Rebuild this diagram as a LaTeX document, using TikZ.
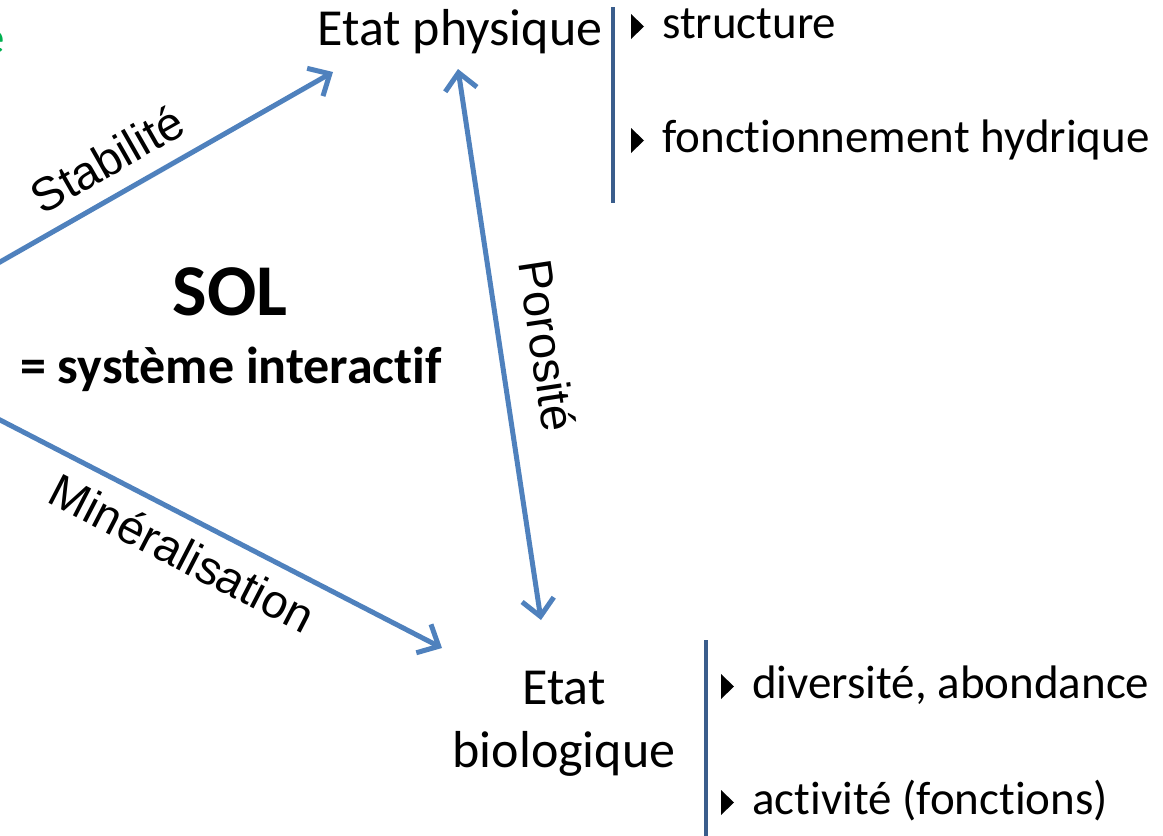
\documentclass[tikz,border=0pt]{standalone}
\usepackage{fontspec}
\setmainfont{Carlito}[Ligatures=NoCommon]
\newfontfamily\arialfont{Liberation Sans}
\usepackage{tikz}
\usetikzlibrary{arrows.meta}
\definecolor{bleu}{HTML}{4F81BD}
\definecolor{bleufonce}{HTML}{3A5D8C}
\definecolor{vert}{HTML}{00B050}

\begin{document}
\begin{tikzpicture}[x=1pt,y=-1pt,
  pointe/.tip={Straight Barb[length=17pt,width=32pt]},
  titre/.style={inner sep=0pt,font=\fontsize{52}{63}\selectfont,align=center},
  puce/.style={inner sep=0pt,anchor=base west,font=\fontsize{47}{56}\selectfont},
  gras/.style={inner sep=0pt,anchor=base,font=\fontsize{52}{63}\selectfont\bfseries},
  lien/.style={inner sep=0pt,font=\arialfont\fontsize{47}{56}\selectfont,sloped},
  fleche/.style={draw=bleu,line width=5pt},
  trait/.style={draw=bleufonce,line width=4pt},
  marque/.pic={\fill (-31,1) -- (-31,-24) -- (-18,-11.5) -- cycle;}
]
\useasboundingbox (0,0) rectangle (1163,836);
\node[titre,anchor=base] (physique) at (460,45) {Etat physique};
\node[titre,anchor=north] (biologique) at (564,671) {Etat\\biologique};
\node[gras,font=\fontsize{73}{88}\selectfont\bfseries] (sol) at (230,315) {SOL};
\node[gras] (systeme) at (231,383) {= système interactif};
\node[titre,anchor=base east,text=vert,font=\fontsize{47}{56}\selectfont] (coin) at (5,53) {e};

\draw[trait] (613,7) -- (613,203);
\draw[trait] (706,640) -- (706,836);
\node[puce] (structure) at (662,38) {structure};
\node[puce] (hydrique) at (662,152) {fonctionnement hydrique};
\node[puce] (diversite) at (752,698) {diversité, abondance};
\node[puce] (activite) at (752,814) {activité (fonctions)};
\foreach \p in {structure,hydrique,diversite,activite}
  \pic at (\p.base west) {marque};

\coordinate (depart1) at (-10,267.7);
\coordinate (depart2) at (-10,414.8);
\draw[fleche,-pointe] (depart1) -- node[lien,pos=0.394,anchor=south,outer sep=19pt] {Stabilité} ([xshift=-127pt,yshift=-27pt]physique.base);
\draw[fleche,pointe-pointe] ([xshift=-2pt,yshift=-24pt]physique.base) -- node[lien,pos=0.515,anchor=south,outer sep=30pt] {Porosité} ([xshift=-23pt,yshift=51pt]biologique.north);
\draw[fleche,-pointe] (depart2) -- node[lien,pos=0.461,anchor=north,outer sep=17pt] {Minéralisation} ([xshift=-122pt,yshift=23pt]biologique.north);
\end{tikzpicture}
\end{document}
